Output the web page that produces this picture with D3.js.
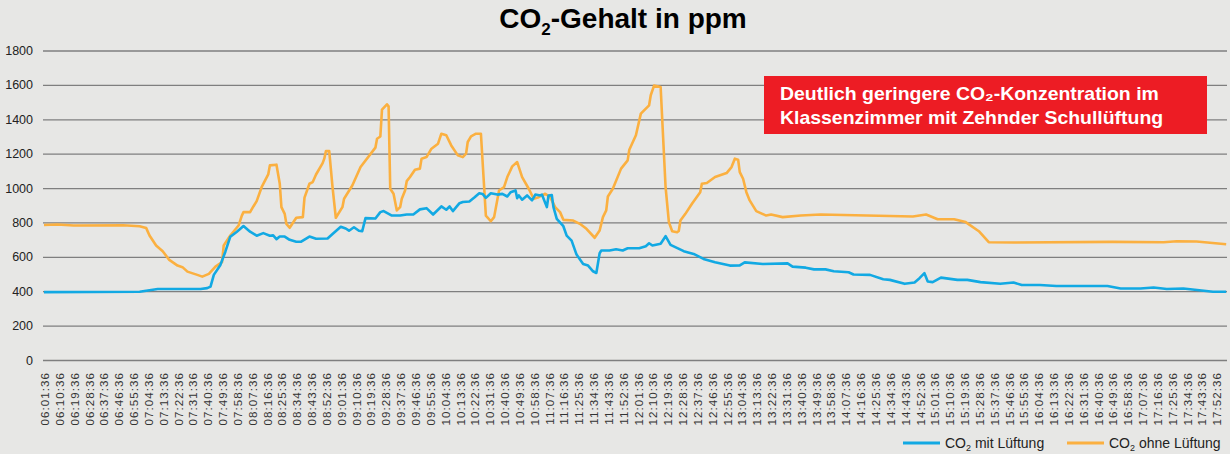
<!DOCTYPE html>
<html>
<head>
<meta charset="utf-8">
<script src="https://cdn.jsdelivr.net/npm/d3@7"></script>
<style>
  body { margin: 0; background: #e7e7e5; }
  svg { display: block; font-family: "Liberation Sans", Arial, sans-serif; }
</style>
</head>
<body>
<div id="chart"></div>
<script>
//series values: [time, ppm]
var mitLueftung = [
  ["06:01",395],["06:59",397],["07:10",413],["07:36",413],["07:40",418],["07:42",427],
  ["07:44",495],["07:48",553],["07:51",630],["07:54",717],["07:58",746],["08:02",779],
  ["08:06",746],["08:10",723],["08:14",738],["08:18",723],["08:20",725],["08:22",703],
  ["08:24",718],["08:27",718],["08:30",699],["08:34",688],["08:37",688],["08:42",718],
  ["08:46",705],["08:53",707],["08:56",733],["09:01",775],["09:04",765],["09:06",752],
  ["09:09",772],["09:12",752],["09:14",749],["09:16",825],["09:22",823],["09:25",860],
  ["09:27",866],["09:32",840],["09:37",840],["09:41",846],["09:45",846],["09:49",876],
  ["09:53",883],["09:57",846],["10:02",893],["10:05",874],["10:07",893],["10:09",866],
  ["10:13",912],["10:15",919],["10:19",922],["10:22",945],["10:25",970],["10:27",966],
  ["10:29",943],["10:32",970],["10:36",962],["10:39",966],["10:42",951],["10:44",976],
  ["10:47",986],["10:48",941],["10:49",957],["10:51",932],["10:54",957],["10:57",928],
  ["10:59",962],["11:02",957],["11:03",962],["11:06",889],["11:07",957],["11:09",959],
  ["11:10",889],["11:12",821],["11:16",778],["11:18",723],["11:21",694],["11:24",613],
  ["11:28",558],["11:31",549],["11:34",516],["11:36",506],["11:38",621],["11:39",637],
  ["11:44",637],["11:48",644],["11:52",637],["11:55",650],["12:02",650],["12:06",662],
  ["12:08",679],["12:10",666],["12:15",676],["12:18",720],["12:21",670],["12:29",633],
  ["12:35",617],["12:41",588],["12:48",568],["12:57",549],["13:03",550],["13:06",568],
  ["13:17",558],["13:32",562],["13:35",543],["13:43",537],["13:48",527],["13:55",527],
  ["14:00",516],["14:09",510],["14:12",497],["14:22",495],["14:30",470],["14:34",466],
  ["14:43",443],["14:49",451],["14:52",476],["14:55",505],["14:57",457],["15:00",453],
  ["15:05",479],["15:15",466],["15:21",466],["15:29",453],["15:41",443],["15:49",451],
  ["15:54",436],["16:05",436],["16:15",430],["16:46",430],["16:54",416],["17:06",416],
  ["17:14",422],["17:22",413],["17:32",416],["17:50",397],["17:58",397]
];

var ohneLueftung = [
  ["06:01",785],["06:09",788],["06:19",782],["06:49",784],["06:59",778],["07:03",767],
  ["07:05",724],["07:09",666],["07:13",633],["07:17",582],["07:22",549],["07:25",540],
  ["07:28",514],["07:34",495],["07:37",485],["07:41",501],["07:45",543],["07:49",569],
  ["07:50",666],["07:54",724],["07:59",782],["08:01",840],["08:02",860],["08:06",860],
  ["08:08",893],["08:10",924],["08:13",1005],["08:17",1079],["08:18",1132],["08:22",1136],
  ["08:24",1025],["08:25",889],["08:27",850],["08:28",792],["08:30",769],["08:34",827],
  ["08:38",831],["08:39",944],["08:42",1025],["08:44",1035],["08:46",1079],["08:50",1145],
  ["08:51",1171],["08:52",1215],["08:54",1215],["08:56",1005],["08:58",827],["09:02",889],
  ["09:03",938],["09:08",1015],["09:13",1122],["09:22",1235],["09:23",1287],["09:25",1300],
  ["09:26",1456],["09:29",1487],["09:30",1475],["09:31",996],["09:33",967],["09:35",870],
  ["09:37",889],["09:38",938],["09:40",986],["09:41",1040],["09:43",1064],["09:46",1107],
  ["09:49",1113],["09:50",1171],["09:53",1180],["09:56",1229],["10:00",1258],["10:01",1287],
  ["10:02",1316],["10:05",1307],["10:08",1248],["10:12",1190],["10:15",1180],["10:17",1200],
  ["10:18",1268],["10:20",1301],["10:23",1316],["10:26",1316],["10:29",840],["10:32",807],
  ["10:34",831],["10:37",986],["10:40",1005],["10:42",1064],["10:45",1126],["10:48",1151],
  ["10:51",1064],["10:55",996],["10:58",938],["11:01",947],["11:05",967],["11:08",947],
  ["11:11",889],["11:14",860],["11:16",815],["11:22",811],["11:26",792],["11:30",763],
  ["11:35",711],["11:38",753],["11:40",831],["11:42",870],["11:43",951],["11:46",996],
  ["11:51",1113],["11:55",1161],["11:56",1223],["12:00",1307],["12:03",1433],["12:08",1481],
  ["12:09",1540],["12:11",1596],["12:15",1588],["12:18",1005],["12:20",802],["12:22",749],
  ["12:25",743],["12:26",750],["12:27",811],["12:30",850],["12:34",909],["12:39",976],
  ["12:40",1025],["12:43",1029],["12:48",1064],["12:55",1087],["12:58",1122],["13:00",1171],
  ["13:02",1165],["13:03",1093],["13:05",1054],["13:07",976],["13:09",928],["13:13",866],
  ["13:19",840],["13:22",846],["13:29",831],["13:40",840],["13:52",846],["14:48",835],
  ["14:56",846],["15:03",819],["15:13",819],["15:20",802],["15:28",749],["15:34",685],
  ["15:49",683],["16:49",687],["17:20",685],["17:28",691],["17:40",689],["17:58",673]
];

var yTicks = [0, 200, 400, 600, 800, 1000, 1200, 1400, 1600, 1800];
//x labels: every 9 minutes from 06:01:36 to 17:52:36
var firstLabel = "06:01:36", labelCount = 80, labelStep = 9;

var W = 1230, H = 454;
var plotLeft = 43, plotRight = 1227, plotTop = 50.5, plotBottom = 360;

var parseHM = d3.timeParse("%H:%M"),
    parseHMS = d3.timeParse("%H:%M:%S"),
    fmt = d3.timeFormat("%H:%M:%S");

var x = d3.scaleTime()
    .domain([parseHMS("06:00:24"), parseHMS("17:58:30")])
    .range([plotLeft, plotRight]);
var y = d3.scaleLinear().domain([0, 1800]).range([plotBottom, plotTop]);

var labelTimes = d3.range(labelCount).map(function(i) {
  return d3.timeMinute.offset(parseHMS(firstLabel), i * labelStep);
});

var svg = d3.select("#chart").append("svg")
    .attr("width", W).attr("height", H);

svg.append("rect").attr("width", W).attr("height", H).attr("fill", "#e7e7e5");

//title
var title = svg.append("text")
    .attr("x", 623).attr("y", 28)
    .attr("text-anchor", "middle")
    .style("font-size", "28px").style("font-weight", "bold").attr("fill", "#000");
title.append("tspan").text("CO");
title.append("tspan").text("2").style("font-size", "17px").attr("dy", 7);
title.append("tspan").text("-Gehalt in ppm").attr("dy", -7);

//y grid + labels
var yAxis = svg.append("g")
    .attr("transform", "translate(" + plotLeft + ",0)")
    .call(d3.axisLeft(y).tickValues(yTicks).tickFormat(d3.format("d"))
      .tickSize(-(plotRight - plotLeft)).tickPadding(10));
yAxis.select(".domain").remove();
yAxis.selectAll(".tick line").attr("stroke", "#7f7f7f").attr("stroke-width", 1.3);
yAxis.selectAll(".tick text")
    .style("font-size", "12.5px").attr("fill", "#222").attr("x", -10);

//x labels
var xAxis = svg.append("g");
xAxis.selectAll("text")
  .data(labelTimes)
  .enter().append("text")
    .attr("transform", function(d) { return "translate(" + x(d) + ",372) rotate(-90)"; })
    .attr("text-anchor", "end")
    .attr("dy", "0.35em")
    .style("font-size", "11.5px")
    .style("letter-spacing", "1.1px")
    .attr("fill", "#333")
    .text(function(d) { return fmt(d); });

var line = d3.line()
    .x(function(d) { return x(parseHM(d[0])); })
    .y(function(d) { return y(d[1]); });

svg.append("path")
    .datum(ohneLueftung)
    .attr("d", line)
    .attr("fill", "none")
    .attr("stroke", "#fbb040")
    .attr("stroke-width", 2.6)
    .attr("stroke-linejoin", "round");

svg.append("path")
    .datum(mitLueftung)
    .attr("d", line)
    .attr("fill", "none")
    .attr("stroke", "#12a9e3")
    .attr("stroke-width", 2.6)
    .attr("stroke-linejoin", "round");

//annotation box
var note = svg.append("g");
note.append("rect")
    .attr("x", 764).attr("y", 76).attr("width", 443).attr("height", 58)
    .attr("fill", "#ed1c24");
var noteText = note.append("text")
    .attr("transform", "translate(780,0) scale(1.08,1)")
    .attr("fill", "#fff").style("font-size", "18px").style("font-weight", "bold");
noteText.append("tspan").attr("x", 0).attr("y", 100)
    .text("Deutlich geringere CO\u2082-Konzentration im");
noteText.append("tspan").attr("x", 0).attr("y", 124)
    .text("Klassenzimmer mit Zehnder Schullüftung");

//legend
var legend = [
  {label: "mit Lüftung", color: "#12a9e3", x: 903},
  {label: "ohne Lüftung", color: "#fbb040", x: 1067}
];
var lg = svg.selectAll(".legend")
  .data(legend)
  .enter().append("g")
    .attr("class", "legend")
    .attr("transform", function(d) { return "translate(" + d.x + ",443)"; });
lg.append("line")
    .attr("x1", 0).attr("x2", 37)
    .attr("stroke", function(d) { return d.color; })
    .attr("stroke-width", 3);
var lt = lg.append("text")
    .attr("x", 42).attr("dy", "0.35em")
    .style("font-size", "14px").attr("fill", "#222");
lt.append("tspan").text("CO");
lt.append("tspan").text("2").style("font-size", "9px").attr("dy", 3);
lt.append("tspan").text(function(d) { return " " + d.label; }).attr("dy", -3);
</script>
</body>
</html>
